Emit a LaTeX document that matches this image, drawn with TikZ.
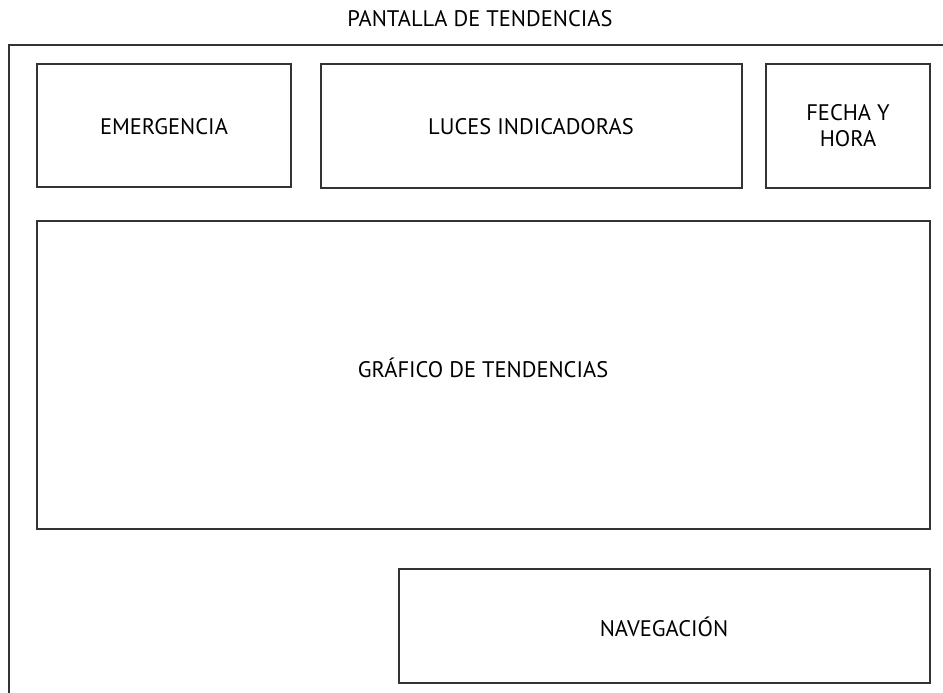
\documentclass[tikz,border=0pt]{standalone}
\usepackage{fontspec}
\setmainfont{PT Sans}
\begin{document}
\begin{tikzpicture}[x=1pt,y=-1pt,
  boxst/.style={draw=black!80,line width=1.6pt},
  lbl/.style={font=\fontsize{22.5}{26}\selectfont,align=center,text=black}]
\useasboundingbox (0,0) rectangle (943,693);
\coordinate (fbl) at (9,693);
\coordinate (ftl) at (9,45);
\coordinate (ftr) at (943,45);
\draw[boxst] (fbl) -- (ftl) -- (ftr);
\node[lbl] (title) at (480,19) {PANTALLA DE TENDENCIAS};
\draw[boxst] (37,64) rectangle (291,187);
\node[lbl] (emer) at (164,127) {EMERGENCIA};
\draw[boxst] (321,64) rectangle (742,188);
\node[lbl] (luces) at (531,127) {LUCES INDICADORAS};
\draw[boxst] (766,64) rectangle (930,188);
\node[lbl] (fecha) at (848,126) {FECHA Y\\HORA};
\draw[boxst] (37,221) rectangle (930,529);
\node[lbl] (graf) at (483,368) {GRÁFICO DE TENDENCIAS};
\draw[boxst] (399,569) rectangle (930,683);
\node[lbl] (nav) at (664,627) {NAVEGACIÓN};
\end{tikzpicture}
\end{document}
